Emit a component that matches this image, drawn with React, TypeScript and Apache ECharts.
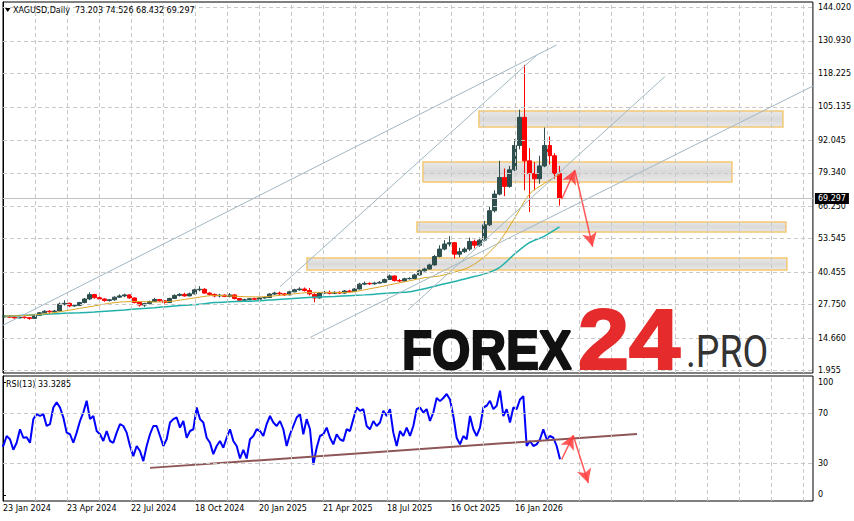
import { useEffect, useRef } from 'react';
import * as echarts from 'echarts';

// ---------- texts ----------
const headerText = 'XAGUSD,Daily  73.203 74.526 68.432 69.297';
const rsiHeaderText = 'RSI(13) 33.3285';
const lastPrice = 69.297;

// ---------- axis tick labels ----------
const priceTicks = [1.955, 14.66, 27.75, 40.455, 53.545, 66.25, 79.34, 92.045, 105.135, 118.225, 130.93, 144.02];
const rsiLevels = [30, 70];
const rsiLabelTexts = ['0', '30', '70', '100'];
const dateLabels = ['23 Jan 2024', '23 Apr 2024', '22 Jul 2024', '18 Oct 2024', '20 Jan 2025', '21 Apr 2025', '18 Jul 2025', '16 Oct 2025', '16 Jan 2026'];

// ---------- weekly OHLC ----------
const opens = [23.0, 23.3, 22.9, 22.6, 22.9, 22.7, 22.4, 23.6, 24.6, 25.2, 25.0, 25.3, 28.0, 28.3, 27.3, 27.5, 28.6, 30.0, 31.7, 30.5,
  30.0, 29.4, 29.7, 30.7, 31.2, 31.6, 30.4, 28.6, 27.6, 28.2, 29.0, 29.8, 29.3, 28.6, 30.2, 31.4, 31.8, 31.2, 32.0, 33.6,
  33.8, 32.3, 31.8, 31.2, 31.5, 31.0, 31.6, 30.2, 29.5, 29.7, 30.1, 29.9, 30.4, 30.6, 31.9, 32.3, 32.0, 31.6, 32.8, 33.6,
  33.9, 33.3, 31.8, 30.4, 32.3, 32.6, 32.2, 32.6, 32.3, 33.1, 32.9, 33.9, 35.8, 36.1, 35.9, 36.2, 36.5, 37.6, 39.0, 37.2,
  37.0, 37.9, 38.0, 39.4, 41.0, 41.7, 43.3, 46.6, 49.5, 51.5, 52.0, 47.5, 48.5, 49.5, 52.5, 51.0, 53.0, 59.0, 64.5, 71.0,
  77.5, 74.0, 80.5, 90.0, 101.0, 84.0, 79.0, 77.0, 82.0, 90.0, 86.0, 79.0];
const highs = [23.6, 23.5, 23.1, 23.2, 23.1, 22.9, 23.8, 24.9, 25.6, 25.6, 25.7, 28.6, 29.5, 28.6, 28.0, 28.9, 30.4, 32.6, 32.0, 31.0,
  30.3, 30.0, 31.0, 31.8, 32.1, 31.9, 30.6, 28.9, 28.5, 29.4, 30.4, 30.0, 29.5, 30.5, 31.8, 32.3, 32.4, 32.5, 34.0, 35.0,
  34.2, 32.6, 32.1, 32.0, 31.8, 32.3, 31.8, 30.4, 30.1, 30.4, 30.5, 30.7, 30.9, 32.3, 32.8, 32.9, 32.3, 33.2, 34.0, 34.6,
  34.5, 34.3, 32.2, 32.6, 33.2, 33.3, 33.0, 33.0, 33.5, 33.6, 34.3, 36.3, 36.8, 36.5, 36.7, 37.0, 38.0, 39.6, 39.2, 37.8,
  38.3, 38.5, 39.9, 41.5, 42.2, 43.8, 47.2, 51.0, 53.0, 54.5, 52.3, 50.0, 50.2, 54.0, 53.2, 54.0, 60.5, 66.0, 72.5, 84.0,
  81.0, 82.0, 92.5, 104.0, 121.5, 89.0, 83.5, 86.0, 97.0, 93.5, 87.0, 82.0];
const lows = [22.8, 22.7, 22.3, 22.4, 22.3, 21.9, 22.2, 23.4, 24.3, 24.6, 24.7, 25.1, 27.4, 26.8, 26.9, 27.2, 28.3, 29.6, 30.1, 29.4,
  28.9, 29.0, 29.3, 30.4, 30.7, 30.1, 28.3, 27.0, 26.9, 27.9, 28.8, 28.9, 28.2, 28.4, 30.0, 31.0, 30.9, 31.0, 31.8, 33.0,
  32.0, 31.3, 30.7, 30.6, 30.7, 30.6, 29.8, 29.0, 29.2, 29.5, 29.6, 29.7, 30.1, 30.5, 31.5, 31.5, 31.2, 31.5, 32.6, 33.2,
  32.9, 31.4, 28.7, 30.1, 32.0, 31.8, 31.9, 31.9, 32.0, 32.5, 32.7, 33.7, 35.4, 35.4, 35.6, 36.0, 36.2, 37.4, 36.8, 36.6,
  36.8, 37.6, 37.8, 39.2, 40.7, 41.5, 43.1, 46.3, 49.0, 50.5, 45.8, 46.3, 48.0, 48.8, 49.8, 50.4, 52.5, 58.5, 63.8, 70.5,
  70.2, 73.5, 80.0, 88.5, 72.5, 64.0, 72.5, 75.0, 81.5, 82.5, 77.0, 66.5];
const closes = [23.3, 22.9, 22.6, 22.9, 22.7, 22.4, 23.6, 24.6, 25.2, 25.0, 25.3, 28.0, 28.3, 27.3, 27.5, 28.6, 30.0, 31.7, 30.5, 30.0,
  29.4, 29.7, 30.7, 31.2, 31.6, 30.4, 28.6, 27.6, 28.2, 29.0, 29.8, 29.3, 28.6, 30.2, 31.4, 31.8, 31.2, 32.0, 33.6, 33.8,
  32.3, 31.8, 31.2, 31.5, 31.0, 31.6, 30.2, 29.5, 29.7, 30.1, 29.9, 30.4, 30.6, 31.9, 32.3, 32.0, 31.6, 32.8, 33.6, 33.9,
  33.3, 32.0, 30.4, 32.3, 32.6, 32.2, 32.6, 32.3, 33.1, 32.9, 33.9, 35.8, 36.1, 35.9, 36.2, 36.5, 37.6, 39.0, 37.2, 37.0,
  37.9, 38.0, 39.4, 41.0, 41.7, 43.3, 46.6, 49.5, 51.5, 52.0, 47.5, 48.5, 49.5, 52.5, 51.0, 53.0, 59.0, 64.5, 71.0, 77.5,
  74.0, 80.5, 90.0, 101.0, 84.0, 79.0, 77.0, 82.0, 90.0, 86.0, 79.0, 69.297];

// ---------- moving averages, one value every 3 weeks ----------
const maFast = [23.3, 23.5, 23.8, 24.4, 25.3, 26.3, 27.3, 28.3, 28.9, 29.0, 28.8, 29.0, 29.8, 30.7, 31.4, 31.2, 30.9, 30.8, 31.2, 31.8,
  32.4, 32.6, 32.5, 32.6, 33.6, 34.7, 35.9, 37.1, 38.3, 39.0, 40.5, 42.5, 46.5, 52.5, 61.5, 71.0, 75.2, 78.7];
const maSlow = [23.2, 23.5, 23.8, 24.1, 24.4, 24.6, 24.9, 25.3, 25.7, 26.2, 26.6, 27.1, 27.5, 27.9, 28.6, 28.9, 29.1, 29.3, 29.7, 30.1,
  30.5, 30.8, 31.0, 31.3, 31.6, 32.0, 32.4, 32.8, 34.0, 35.5, 36.8, 38.3, 39.8, 42.3, 47.5, 52.0, 54.6, 58.2];

// ---------- RSI(13), one value every 10/3 trading days ----------
const rsiValues = [45, 44, 52, 49.4, 41, 46.6, 57.4, 50.6, 51, 46.6, 65.5, 69.5, 68, 69.5, 60, 61.5, 74.8, 78.9, 74.8, 66.8,
  54.7, 53.4, 46.6, 54.7, 64, 70.8, 80.2, 65.5, 68, 56, 53.4, 48, 56, 48, 46.6, 54.7, 61.5, 60, 54.7, 44,
  35.9, 44, 40, 31.9, 44, 53.4, 60, 60, 52, 44, 49.4, 62.8, 65.5, 66.8, 58.7, 64, 50.6, 56, 57.4, 74.8,
  65.5, 62.8, 50.6, 46.6, 37.5, 44, 48, 42.6, 50.6, 57.4, 48, 44, 34, 41, 34, 49.4, 52, 57.4, 56, 52,
  61.5, 68, 62.8, 60, 64, 57.4, 44, 53.4, 60, 66.8, 69.5, 53.4, 65.5, 57.4, 29.2, 42.6, 52, 53.4, 58.7, 50.6,
  45.3, 53.4, 49.4, 48, 57.4, 56, 65.5, 74.8, 72.1, 73.5, 60, 57.4, 64, 60, 62.8, 72.1, 68, 73.5, 54.7, 44,
  56, 52, 58.7, 52, 60, 73.5, 74.8, 70.8, 73.5, 64, 70.8, 82.4, 79.9, 82.4, 85.6, 81.2, 68, 50.6, 45.3, 52,
  49.4, 68, 57.4, 52, 58.7, 74.8, 76.2, 80.2, 73.5, 76.2, 88.3, 68, 73.5, 62.8, 74.8, 73.5, 81.2, 83.9, 44, 48,
  44, 45.3, 49.4, 57.4, 49.4, 52, 50.6, 44, 33.3285];

// ---------- drawn objects, in (trading day, value) ----------
const zones = [
  { from: 476, to: 780, top: 103.48, bottom: 97.23 },
  { from: 420, to: 729, top: 83.54, bottom: 75.72 },
  { from: 414, to: 783, top: 60.09, bottom: 56.18 },
  { from: 304, to: 784, top: 46.01, bottom: 41.32 },
];
const trendLines = [
  [[0, 19.74], [553.7, 129.28]],
  [[277, 34.79], [534, 125.37]],
  [[405, 25.69], [662, 116.97]],
  [[307, 14.93], [851, 121.27]],
];
const priceArrows = [
  [[558.7, 68.96], [572, 80.41]],
  [[572, 80.14], [589.7, 50.43]],
];
const rsiTrend = [[147, 26.5], [634, 53.6]];
const rsiArrows = [
  [[558.7, 33.2], [570.3, 52.6]],
  [[570.3, 52.2], [585.3, 14.4]],
];

// ---------- time scale ----------
const BAR_FIRST_DAY = 1.5;
const BAR_DAYS = 5;
const MA_DAYS = 15;
const RSI_FIRST_DAY = -3;
const RSI_DAYS = 10 / 3;
const X_MAX = 810;
const X_GRID_STEP = 32;
const X_LABEL_STEP = 64;

const FONT = '"DejaVu Sans", Tahoma, sans-serif';
const GRID_COLOR = '#c8c8c8';

export default function App() {
  const ref = useRef<HTMLDivElement>(null);

  useEffect(() => {
    if (!ref.current) return;
    const chart = echarts.init(ref.current, null, { renderer: 'svg' });

    const candleData = opens.map((o, k) => [BAR_FIRST_DAY + k * BAR_DAYS, o, closes[k], lows[k], highs[k]]);
    const maFastData = maFast.map((v, j) => [BAR_FIRST_DAY + j * MA_DAYS, v]);
    const maSlowData = maSlow.map((v, j) => [BAR_FIRST_DAY + j * MA_DAYS, v]);
    const rsiData = rsiValues.map((v, k) => [RSI_FIRST_DAY + k * RSI_DAYS, v]);
    const vGrid: number[] = [];
    for (let d = X_GRID_STEP; d < X_MAX; d += X_GRID_STEP) vGrid.push(d);

    const arrowLine = (pts: number[][]) => [
      { coord: pts[0], symbol: 'none' },
      { coord: pts[1], symbol: 'arrow', symbolSize: [11, 14] },
    ];

    const gridMarks = (ys: number[]) => ({
      silent: true,
      symbol: 'none',
      label: { show: false },
      lineStyle: { color: GRID_COLOR, type: [4, 3], width: 1 },
      data: [...ys.map((v) => ({ yAxis: v })), ...vGrid.map((d) => ({ xAxis: d }))],
    });

    const xBase = {
      type: 'value' as const,
      min: 0,
      max: X_MAX,
      interval: X_GRID_STEP,
      axisLine: { show: false },
      axisTick: { show: false },
      splitLine: { show: false },
    };

    const heavy = (fill: string) => ({ fill, stroke: fill, lineWidth: 2.2 });

    const option: any = {
      animation: false,
      backgroundColor: '#ffffff',
      grid: [
        { left: 3, right: 41, top: 2, height: 371, show: true, borderColor: '#000', borderWidth: 1, backgroundColor: 'transparent' },
        { left: 3, right: 41, top: 376, height: 125, show: true, borderColor: '#000', borderWidth: 1, backgroundColor: 'transparent' },
      ],
      xAxis: [
        { ...xBase, gridIndex: 0, axisLabel: { show: false } },
        {
          ...xBase,
          gridIndex: 1,
          axisLabel: {
            show: true,
            align: 'left',
            margin: 3,
            color: '#000',
            fontSize: 8,
            fontFamily: FONT,
            formatter: (v: number) => {
              const i = Math.round(v / X_LABEL_STEP);
              return Math.abs(v - i * X_LABEL_STEP) < 0.01 && i < dateLabels.length ? dateLabels[i] : '';
            },
          },
        },
      ],
      yAxis: [
        {
          gridIndex: 0,
          type: 'value',
          position: 'right',
          min: 1.06,
          max: 146.09,
          axisLine: { show: true, lineStyle: { color: '#000' } },
          axisTick: { show: true, length: 3, customValues: priceTicks, lineStyle: { color: '#000' } },
          axisLabel: {
            customValues: priceTicks,
            formatter: (v: number) => v.toFixed(3),
            color: '#000',
            fontSize: 8,
            fontFamily: FONT,
            margin: 5,
          },
          splitLine: { show: false },
        },
        {
          gridIndex: 1,
          type: 'value',
          position: 'right',
          min: 0,
          max: 100,
          axisLine: { show: true, lineStyle: { color: '#000' } },
          axisTick: { show: true, length: 3, customValues: [5, 30, 70, 95], lineStyle: { color: '#000' } },
          axisLabel: {
            customValues: [5, 30, 70, 95],
            formatter: (v: number) => (v >= 95 ? rsiLabelTexts[3] : v <= 5 ? rsiLabelTexts[0] : v === 30 ? rsiLabelTexts[1] : rsiLabelTexts[2]),
            color: '#000',
            fontSize: 8,
            fontFamily: FONT,
            margin: 5,
          },
          splitLine: { show: false },
        },
      ],
      series: [
        {
          type: 'line',
          name: 'grid main',
          xAxisIndex: 0,
          yAxisIndex: 0,
          data: [],
          z: 1,
          markLine: gridMarks(priceTicks),
        },
        {
          type: 'line',
          name: 'lastPrice',
          xAxisIndex: 0,
          yAxisIndex: 0,
          data: [],
          z: 2,
          markLine: {
            silent: true,
            symbol: 'none',
            lineStyle: { color: '#c0c0c0', type: 'solid', width: 1 },
            label: {
              show: true,
              position: 'end',
              distance: 2,
              formatter: lastPrice.toFixed(3),
              color: '#fff',
              backgroundColor: '#000',
              fontSize: 8,
              fontFamily: FONT,
              padding: [2, 3, 1, 3],
            },
            data: [{ yAxis: lastPrice }],
          },
        },
        {
          type: 'candlestick',
          name: 'XAGUSD',
          xAxisIndex: 0,
          yAxisIndex: 0,
          data: candleData,
          encode: { x: 0, y: [1, 2, 3, 4] },
          barWidth: 4,
          z: 3,
          itemStyle: {
            color: '#2f4f4f',
            color0: '#ff0000',
            borderColor: '#2f4f4f',
            borderColor0: '#ff0000',
            borderWidth: 1,
          },
        },
        {
          type: 'line',
          name: 'MA slow',
          xAxisIndex: 0,
          yAxisIndex: 0,
          data: maSlowData,
          showSymbol: false,
          smooth: 0.3,
          z: 4,
          lineStyle: { color: '#20b2aa', width: 1.5 },
        },
        {
          type: 'line',
          name: 'MA fast',
          xAxisIndex: 0,
          yAxisIndex: 0,
          data: maFastData,
          showSymbol: false,
          smooth: 0.3,
          z: 4,
          lineStyle: { color: '#daa520', width: 1 },
        },
        ...trendLines.map((pts, i) => ({
          type: 'line',
          name: 'trend' + i,
          xAxisIndex: 0,
          yAxisIndex: 0,
          data: pts,
          showSymbol: false,
          clip: false,
          z: 5,
          lineStyle: { color: '#a2b7c3', width: 1 },
        })),
        {
          type: 'line',
          name: 'zones',
          xAxisIndex: 0,
          yAxisIndex: 0,
          data: [],
          z: 6,
          markArea: {
            silent: true,
            itemStyle: {
              color: {
                type: 'linear',
                x: 0, y: 0, x2: 0, y2: 1,
                colorStops: [
                  { offset: 0, color: 'rgba(225,225,225,0.75)' },
                  { offset: 0.5, color: 'rgba(205,205,205,0.75)' },
                  { offset: 1, color: 'rgba(225,225,225,0.75)' },
                ],
              },
              borderColor: '#f3c873',
              borderWidth: 1.5,
            },
            data: zones.map((z) => [
              { coord: [z.from, z.top] },
              { coord: [z.to, z.bottom] },
            ]),
          },
          markLine: {
            silent: true,
            label: { show: false },
            lineStyle: { color: 'rgba(255,60,60,0.85)', width: 1.5, type: 'solid' },
            itemStyle: { color: 'rgba(255,60,60,0.9)' },
            data: priceArrows.map(arrowLine),
          },
        },
        {
          type: 'line',
          name: 'grid rsi',
          xAxisIndex: 1,
          yAxisIndex: 1,
          data: [],
          z: 1,
          markLine: gridMarks(rsiLevels),
        },
        {
          type: 'line',
          name: 'RSI',
          xAxisIndex: 1,
          yAxisIndex: 1,
          data: rsiData,
          showSymbol: false,
          z: 3,
          lineStyle: { color: '#0000ff', width: 2 },
        },
        {
          type: 'line',
          name: 'RSI trend',
          xAxisIndex: 1,
          yAxisIndex: 1,
          data: rsiTrend,
          showSymbol: false,
          z: 4,
          lineStyle: { color: '#8e5656', width: 2 },
          markLine: {
            silent: true,
            label: { show: false },
            lineStyle: { color: 'rgba(255,60,60,0.85)', width: 1.5, type: 'solid' },
            itemStyle: { color: 'rgba(255,60,60,0.9)' },
            data: rsiArrows.map(arrowLine),
          },
        },
      ],
      graphic: [
        {
          type: 'polygon',
          z: 100,
          shape: { points: [[5, 8], [10.5, 8], [7.75, 12]] },
          style: { fill: '#000' },
        },
        {
          type: 'text',
          x: 13,
          y: 10,
          z: 100,
          style: { text: headerText, fill: '#000', font: '8px ' + FONT, align: 'left', verticalAlign: 'middle' },
        },
        {
          type: 'text',
          x: 6,
          y: 384,
          z: 100,
          style: { text: rsiHeaderText, fill: '#000', font: '8px ' + FONT, align: 'left', verticalAlign: 'middle' },
        },
        {
          type: 'text',
          x: 402,
          y: 349,
          scaleX: 0.88,
          z: 100,
          style: { text: 'FOREX', ...heavy('#111'), font: 'bold 56px "Liberation Sans", Arial, sans-serif', align: 'left', verticalAlign: 'middle' },
        },
        {
          type: 'text',
          x: 578,
          y: 340,
          scaleX: 1.08,
          z: 100,
          style: { text: '24', ...heavy('#e52b2b'), font: 'bold 85px "Liberation Sans", Arial, sans-serif', align: 'left', verticalAlign: 'middle' },
        },
        {
          type: 'text',
          x: 686,
          y: 352,
          scaleX: 0.85,
          z: 100,
          style: { text: '.PRO', fill: '#333', font: '44px Roboto, "Liberation Sans", sans-serif', align: 'left', verticalAlign: 'middle' },
        },
      ],
    };

    chart.setOption(option);
    return () => chart.dispose();
  }, []);

  return (
    <div
      ref={ref}
      style={{ position: 'fixed', left: 0, top: 0, width: 854, height: 521, background: '#fff' }}
    />
  );
}
